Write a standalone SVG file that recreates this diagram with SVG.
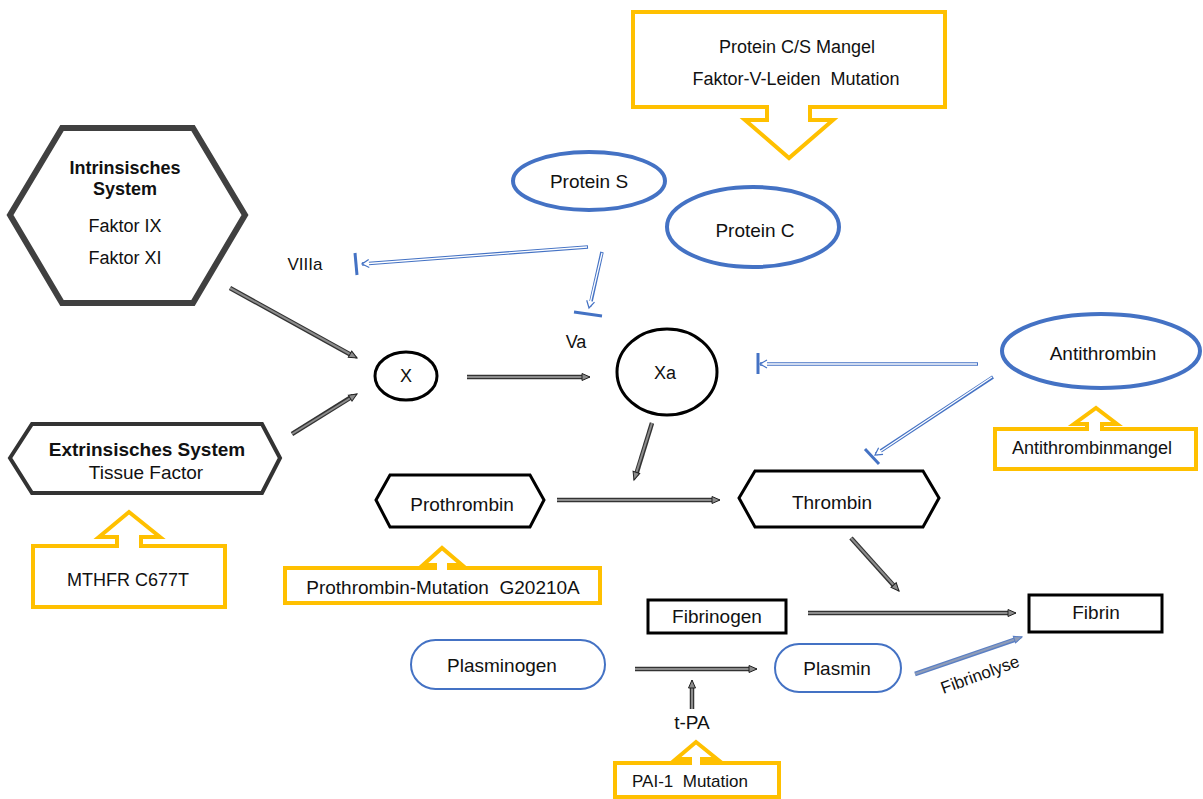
<svg xmlns="http://www.w3.org/2000/svg" width="1203" height="799" viewBox="0 0 1203 799">
<style>
text{font-family:"Liberation Sans",Arial,sans-serif;fill:#111;text-anchor:middle}
.b{font-weight:bold}
.yel{fill:#fff;stroke:#FFC000;stroke-width:4}
.blu{fill:#fff;stroke:#4472C4;stroke-width:4}
.pill{fill:#fff;stroke:#4472C4;stroke-width:2}
.blk{fill:#fff;stroke:#000;stroke-width:3}
.ao{stroke:#333;stroke-width:4.5;fill:none}
.ai{stroke:#8c8c8c;stroke-width:2;fill:none;marker-end:url(#ah)}
.bo{stroke:#4472C4;stroke-width:3.5;fill:none}
.bi{stroke:#fff;stroke-width:1.3;fill:none;marker-end:url(#bh)}
.bar{stroke:#4472C4;stroke-width:3;fill:none}
.fo{stroke:#5a7fc4;stroke-width:4.5;fill:none}
.fi{stroke:#8e9cb8;stroke-width:2;fill:none;marker-end:url(#fh)}
</style>
<defs>
<marker id="ah" markerUnits="userSpaceOnUse" markerWidth="12" markerHeight="12" refX="8" refY="5" orient="auto" viewBox="-1 -1 11 12">
<path d="M0,1.5 L8,5 L0,8.5 Z" fill="#8c8c8c" stroke="#222" stroke-width="1"/>
</marker>
<marker id="bh" markerUnits="userSpaceOnUse" markerWidth="12" markerHeight="12" refX="7" refY="5" orient="auto" viewBox="-1 -1 11 12">
<path d="M0,1 L7,5 L0,9" fill="#fff" stroke="#4472C4" stroke-width="1.2"/>
</marker>
<marker id="fh" markerUnits="userSpaceOnUse" markerWidth="12" markerHeight="12" refX="8" refY="5" orient="auto" viewBox="-1 -1 11 12">
<path d="M0,1.5 L8,5 L0,8.5 Z" fill="#8e9cb8" stroke="#5a7fc4" stroke-width="1"/>
</marker>
</defs>
<rect width="1203" height="799" fill="#fff"/>

<g id="connectors">
<line class="ao" x1="230" y1="288" x2="353" y2="356"/><line class="ai" x1="230" y1="288" x2="357" y2="358"/>
<line class="ao" x1="292" y1="434" x2="353" y2="396"/><line class="ai" x1="292" y1="434" x2="357" y2="394"/>
<line class="ao" x1="467" y1="377" x2="585" y2="377"/><line class="ai" x1="467" y1="377" x2="590" y2="377"/>
<line class="ao" x1="652" y1="423" x2="636" y2="475"/><line class="ai" x1="652" y1="423" x2="634" y2="480"/>
<line class="ao" x1="557" y1="500" x2="715" y2="500"/><line class="ai" x1="557" y1="500" x2="720" y2="500"/>
<line class="ao" x1="851" y1="538" x2="895" y2="587"/><line class="ai" x1="851" y1="538" x2="899" y2="591"/>
<line class="ao" x1="808" y1="613" x2="1011" y2="613"/><line class="ai" x1="808" y1="613" x2="1016" y2="613"/>
<line class="ao" x1="635" y1="669" x2="752" y2="669"/><line class="ai" x1="635" y1="669" x2="757" y2="669"/>
<line class="ao" x1="692" y1="709" x2="692" y2="685"/><line class="ai" x1="692" y1="709" x2="692" y2="680"/>

<line class="bo" x1="588" y1="247" x2="362" y2="264"/><line class="bi" x1="587" y1="247" x2="362" y2="264"/>
<line class="bar" x1="355" y1="253" x2="357" y2="275"/>
<line class="bo" x1="602" y1="252" x2="590" y2="306"/><line class="bi" x1="602" y1="253" x2="589" y2="308"/>
<line class="bar" x1="574" y1="312" x2="602" y2="316"/>
<line class="bo" x1="978" y1="364" x2="760" y2="364"/><line class="bi" x1="977" y1="364" x2="760" y2="364"/>
<line class="bar" x1="758" y1="353" x2="758" y2="374"/>
<line class="bo" x1="993" y1="377" x2="876" y2="454"/><line class="bi" x1="992" y1="377" x2="875" y2="455"/>
<line class="bar" x1="865" y1="449" x2="879" y2="464"/>

<line class="fo" x1="915" y1="674" x2="1017" y2="639"/><line class="fi" x1="915" y1="674" x2="1022" y2="637"/>
<text x="982" y="680" font-size="17" transform="rotate(-20 982 680)">Fibrinolyse</text>
</g>

<g id="callout-top">
<path class="yel" d="M633,12 H945 V107 H810 V120 H833 L789,158 L745,120 H767 V107 H633 Z"/>
<text x="797" y="53" font-size="18">Protein C/S Mangel</text>
<text x="796" y="85" font-size="18">Faktor-V-Leiden&#160; Mutation</text>
</g>

<g id="intrinsic">
<polygon points="10,215 62,128 193,128 245,215 193,303 62,303" fill="#fff" stroke="#404040" stroke-width="6"/>
<text class="b" x="125" y="174" font-size="18">Intrinsisches</text>
<text class="b" x="125" y="195" font-size="18">System</text>
<text x="125" y="232" font-size="18">Faktor IX</text>
<text x="125" y="264" font-size="18">Faktor XI</text>
</g>

<g id="extrinsic">
<polygon points="10,458 32,424 262,424 280,458 262,493 32,493" fill="#fff" stroke="#333" stroke-width="4"/>
<text class="b" x="147" y="456" font-size="19">Extrinsisches System</text>
<text x="146" y="479" font-size="19">Tissue Factor</text>
</g>

<g id="mthfr">
<path class="yel" d="M33,546 H117 V537 H99 L129,512 L160,537 H141 V546 H225 V607 H33 Z"/>
<text x="128" y="586" font-size="18">MTHFR C677T</text>
</g>

<g id="villa"><text x="305" y="270" font-size="17">VIIIa</text></g>
<g id="va"><text x="576" y="348" font-size="18">Va</text></g>

<g id="protein-s">
<ellipse class="blu" cx="589" cy="181" rx="76" ry="29"/>
<text x="589" y="188" font-size="19">Protein S</text>
</g>
<g id="protein-c">
<ellipse class="blu" cx="753" cy="227" rx="86" ry="40"/>
<text x="755" y="237" font-size="19">Protein C</text>
</g>

<g id="x">
<ellipse class="blk" cx="406" cy="376" rx="31" ry="24"/>
<text x="406" y="382" font-size="18">X</text>
</g>
<g id="xa">
<ellipse class="blk" cx="667" cy="372" rx="50" ry="43"/>
<text x="665" y="379" font-size="18">Xa</text>
</g>

<g id="antithrombin">
<ellipse class="blu" cx="1101" cy="351" rx="99" ry="37"/>
<text x="1103" y="360" font-size="19">Antithrombin</text>
</g>
<g id="antithrombinmangel">
<path class="yel" d="M995,429 H1087 V424 H1074 L1096,408 L1117,424 H1102 V429 H1196 V469 H995 Z"/>
<text x="1092" y="454" font-size="18">Antithrombinmangel</text>
</g>

<g id="prothrombin">
<polygon class="blk" points="376,500 390,475 530,475 544,500 530,527 390,527"/>
<text x="462" y="511" font-size="19">Prothrombin</text>
</g>
<g id="prothrombin-mutation">
<path class="yel" d="M285,568 H435 V565 H423 L442,548 L462,565 H449 V568 H600 V603 H285 Z"/>
<text x="443" y="594" font-size="19">Prothrombin-Mutation&#160; G20210A</text>
</g>

<g id="thrombin">
<polygon class="blk" points="739,498 755,471 923,471 939,498 923,527 755,527"/>
<text x="832" y="509" font-size="19">Thrombin</text>
</g>

<g id="fibrinogen">
<rect class="blk" x="648" y="600" width="138" height="33" stroke-width="3.5"/>
<text x="717" y="623" font-size="19">Fibrinogen</text>
</g>
<g id="fibrin">
<rect class="blk" x="1029" y="595" width="133" height="37" stroke-width="3.5"/>
<text x="1096" y="619" font-size="19">Fibrin</text>
</g>

<g id="plasminogen">
<rect class="pill" x="411" y="640" width="194" height="49" rx="24.5"/>
<text x="502" y="672" font-size="19">Plasminogen</text>
</g>
<g id="plasmin">
<rect class="pill" x="775" y="644" width="126" height="48" rx="24"/>
<text x="837" y="675" font-size="19">Plasmin</text>
</g>

<g id="tpa"><text x="692" y="729" font-size="19">t-PA</text></g>

<g id="pai1">
<path class="yel" d="M615,763 H690 V759 H676 L696,742 L717,759 H702 V763 H779 V797 H615 Z"/>
<text x="690" y="787" font-size="17">PAI-1&#160; Mutation</text>
</g>
</svg>
